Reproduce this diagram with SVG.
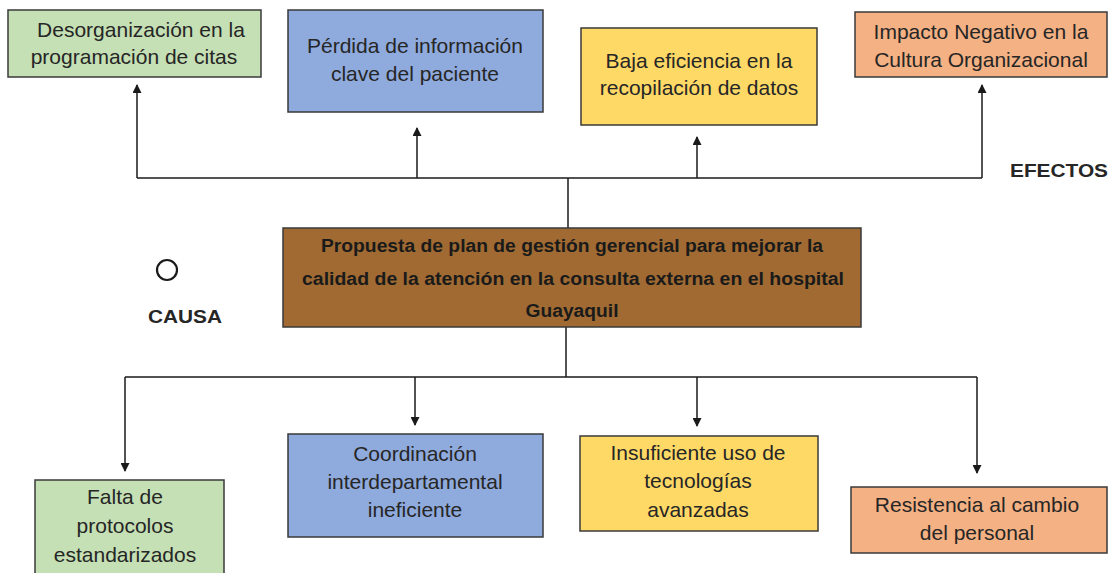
<svg xmlns="http://www.w3.org/2000/svg" width="1115" height="573" viewBox="0 0 1115 573">
<style>
.box{stroke:#3a3a3a;stroke-width:1.5}
.t{font-family:"Liberation Sans",Arial,sans-serif;font-size:21px;fill:#262626;text-anchor:middle}
.c{font-family:"Liberation Sans",Arial,sans-serif;font-size:18px;font-weight:bold;fill:#1a1a1a;text-anchor:middle}
.lbl{font-family:"Liberation Sans",Arial,sans-serif;font-size:19px;font-weight:bold;fill:#262626}
.ln{stroke:#1a1a1a;stroke-width:1.5;fill:none}
</style>
<defs>
<marker id="ah" viewBox="0 0 10 10" refX="9" refY="5" markerWidth="10" markerHeight="9" markerUnits="userSpaceOnUse" orient="auto">
<path d="M0,0 L10,5 L0,10 z" fill="#1a1a1a"/>
</marker>
</defs>
<rect width="1115" height="573" fill="#ffffff"/>
<g id="connectors">
<line class="ln" x1="137" y1="178" x2="982" y2="178"/>
<line class="ln" x1="568" y1="178" x2="568" y2="228"/>
<line class="ln" x1="137" y1="178" x2="137" y2="85" marker-end="url(#ah)"/>
<line class="ln" x1="417" y1="178" x2="417" y2="128" marker-end="url(#ah)"/>
<line class="ln" x1="697" y1="178" x2="697" y2="137" marker-end="url(#ah)"/>
<line class="ln" x1="982" y1="178" x2="982" y2="85" marker-end="url(#ah)"/>
<line class="ln" x1="566" y1="327" x2="566" y2="377"/>
<line class="ln" x1="125" y1="377" x2="977" y2="377"/>
<line class="ln" x1="125" y1="377" x2="125" y2="471" marker-end="url(#ah)"/>
<line class="ln" x1="415" y1="377" x2="415" y2="425" marker-end="url(#ah)"/>
<line class="ln" x1="697" y1="377" x2="697" y2="426" marker-end="url(#ah)"/>
<line class="ln" x1="977" y1="377" x2="977" y2="473" marker-end="url(#ah)"/>
</g>
<g id="e1">
<rect class="box" x="8" y="10" width="253" height="67" fill="#c5e0b4"/>
<text class="t" x="141" y="37">Desorganización en la</text>
<text class="t" x="134" y="64">programación de citas</text>
</g>
<g id="e2">
<rect class="box" x="288" y="10" width="255" height="102" fill="#8faadc"/>
<text class="t" x="415" y="53">Pérdida de información</text>
<text class="t" x="415" y="81">clave del paciente</text>
</g>
<g id="e3">
<rect class="box" x="581" y="28" width="236" height="97" fill="#ffd966"/>
<text class="t" x="699" y="68">Baja eficiencia en la</text>
<text class="t" x="699" y="95">recopilación de datos</text>
</g>
<g id="e4">
<rect class="box" x="855" y="12" width="252" height="65" fill="#f4b183"/>
<text class="t" x="981" y="39">Impacto Negativo en la</text>
<text class="t" x="981" y="67">Cultura Organizacional</text>
</g>
<g id="efectos">
<text class="lbl" x="1010" y="177" textLength="98" lengthAdjust="spacingAndGlyphs">EFECTOS</text>
</g>
<g id="center">
<rect class="box" x="283" y="228" width="578" height="99" fill="#a06a32"/>
<text class="c" x="572" y="252" textLength="502" lengthAdjust="spacingAndGlyphs">Propuesta de plan de gestión gerencial para mejorar la</text>
<text class="c" x="573" y="285" textLength="542" lengthAdjust="spacingAndGlyphs">calidad de la atención en la consulta externa en el hospital</text>
<text class="c" x="572" y="317" textLength="93" lengthAdjust="spacingAndGlyphs">Guayaquil</text>
</g>
<g id="causa">
<circle cx="167" cy="270" r="10" fill="none" stroke="#1a1a1a" stroke-width="2.2"/>
<text class="lbl" x="148" y="323" textLength="74" lengthAdjust="spacingAndGlyphs">CAUSA</text>
</g>
<g id="c1">
<rect class="box" x="35" y="480" width="189" height="100" fill="#c5e0b4"/>
<text class="t" x="125" y="504">Falta de</text>
<text class="t" x="125" y="533">protocolos</text>
<text class="t" x="125" y="562">estandarizados</text>
</g>
<g id="c2">
<rect class="box" x="288" y="434" width="255" height="103" fill="#8faadc"/>
<text class="t" x="415" y="461">Coordinación</text>
<text class="t" x="415" y="489">interdepartamental</text>
<text class="t" x="415" y="517">ineficiente</text>
</g>
<g id="c3">
<rect class="box" x="580" y="436" width="238" height="95" fill="#ffd966"/>
<text class="t" x="698" y="460">Insuficiente uso de</text>
<text class="t" x="698" y="488">tecnologías</text>
<text class="t" x="698" y="517">avanzadas</text>
</g>
<g id="c4">
<rect class="box" x="851" y="487" width="256" height="66" fill="#f4b183"/>
<text class="t" x="977" y="512">Resistencia al cambio</text>
<text class="t" x="977" y="540">del personal</text>
</g>
</svg>
